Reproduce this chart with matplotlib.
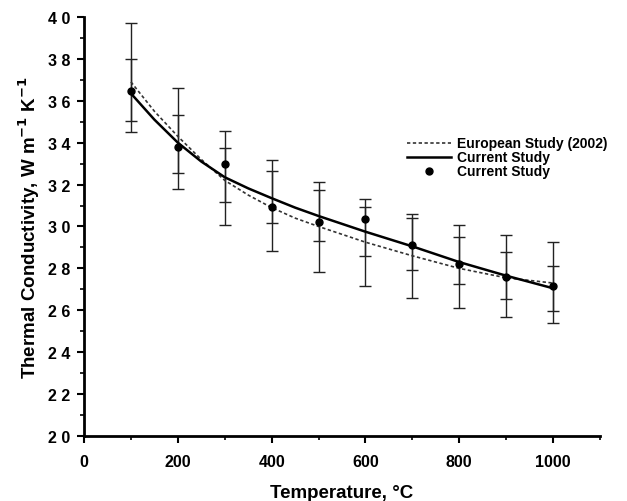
import numpy as np
import matplotlib
matplotlib.use('Agg')
import matplotlib.pyplot as plt
from matplotlib.ticker import MultipleLocator, FuncFormatter

# data
temp = [100, 200, 300, 400, 500, 600, 700, 800, 900, 1000]
k_meas = [36.45, 33.8, 33.0, 30.95, 30.2, 30.35, 29.1, 28.2, 27.6, 27.15]
outer_hi = [39.7, 36.6, 34.55, 33.15, 32.1, 31.3, 30.6, 30.05, 29.6, 29.25]
outer_lo = [34.5, 31.8, 30.05, 28.85, 27.85, 27.15, 26.6, 26.1, 25.7, 25.4]
inner_hi = [38.0, 35.3, 33.75, 32.65, 31.75, 30.95, 30.4, 29.5, 28.8, 28.1]
inner_lo = [35.05, 32.55, 31.15, 30.15, 29.3, 28.6, 27.9, 27.25, 26.55, 25.95]

fit_t = [100, 150, 200, 250, 300, 350, 400, 450, 500, 600, 700, 800, 900, 1000]
k_current = [36.35, 35.1, 34.0, 33.1, 32.35, 31.82, 31.35, 30.9, 30.5,
             29.75, 29.05, 28.3, 27.65, 27.05]
k_euro = [36.9, 35.5, 34.3, 33.2, 32.2, 31.5, 30.9, 30.4, 30.0,
          29.25, 28.6, 28.0, 27.55, 27.3]

plt.rcParams['font.family'] = ['Liberation Sans', 'DejaVu Sans']

fig = plt.figure(figsize=(6.27, 5.02), dpi=100)
ax = fig.add_axes([0.134, 0.1295, 0.823, 0.8347])

t = np.array(temp)
k = np.array(k_meas)
ax.errorbar(t, k, yerr=[k - np.array(outer_lo), np.array(outer_hi) - k],
            fmt='none', ecolor='#222222', elinewidth=1.0, capsize=4, capthick=1.0)
ax.errorbar(t, k, yerr=[k - np.array(inner_lo), np.array(inner_hi) - k],
            fmt='none', ecolor='#222222', elinewidth=1.0, capsize=4, capthick=1.0)

ax.plot(fit_t, k_euro, linestyle=(0, (2, 1.5)), color='#333333', lw=1.2,
        label='European Study (2002)')
ax.plot(fit_t, k_current, '-', color='black', lw=1.8, label='Current Study')
ax.plot(temp, k_meas, 'o', color='black', ms=5, linestyle='none', label='Current Study')

ax.set_xlim(0, 1100)
ax.set_ylim(20, 40)
ax.xaxis.set_minor_locator(MultipleLocator(100))
ax.yaxis.set_major_locator(MultipleLocator(2))
ax.yaxis.set_minor_locator(MultipleLocator(1))
ax.set_xticks([0, 200, 400, 600, 800, 1000])
ax.yaxis.set_major_formatter(FuncFormatter(lambda v, p: ' '.join(str(int(round(v))))))

for s in ['top', 'right']:
    ax.spines[s].set_visible(False)
for s in ['left', 'bottom']:
    ax.spines[s].set_linewidth(2)

ax.tick_params(which='major', direction='out', length=5, width=1.5, labelsize=11.5, pad=5)
ax.tick_params(axis='x', which='major', pad=8)
ax.tick_params(which='minor', direction='out', length=3, width=1.2)
for lab in ax.get_xticklabels() + ax.get_yticklabels():
    lab.set_fontweight('bold')

ax.set_xlabel('Temperature, °C', fontsize=13.5, fontweight='bold', labelpad=11)
ax.set_ylabel('Thermal Conductivity, W m$^{\\mathbf{-1}}$ K$^{\\mathbf{-1}}$',
              fontsize=13.5, fontweight='bold', labelpad=4)

leg = ax.legend(loc='upper left', bbox_to_anchor=(0.625, 0.715), frameon=False,
                fontsize=10, handlelength=3.2, handletextpad=0.4, labelspacing=0.0,
                borderpad=0, borderaxespad=0)
for txt in leg.get_texts():
    txt.set_fontweight('bold')

fig.savefig('out.png', dpi=100)
